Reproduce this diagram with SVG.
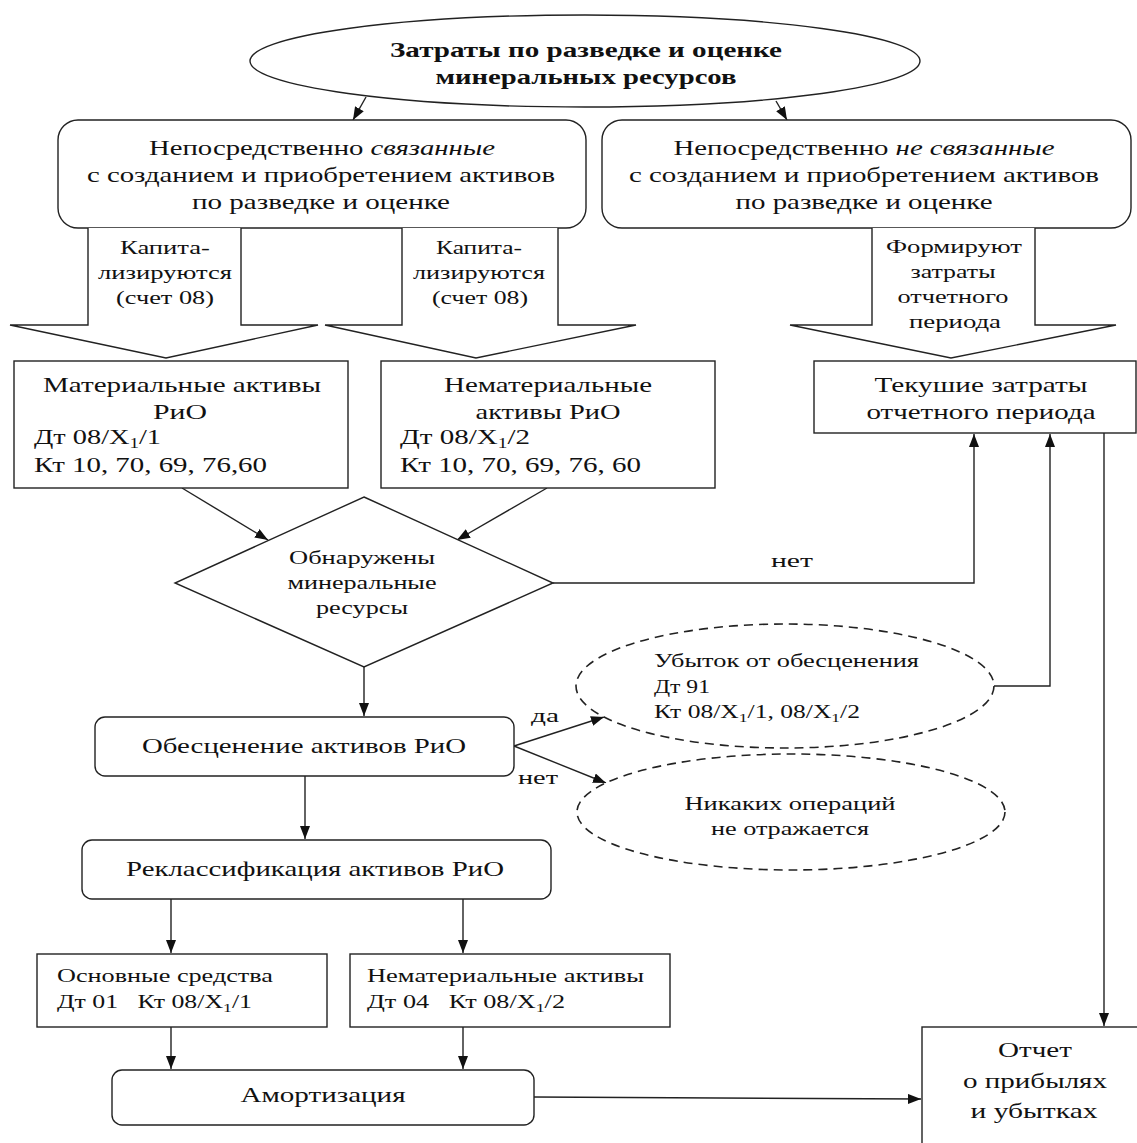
<svg xmlns="http://www.w3.org/2000/svg" width="1137" height="1143" viewBox="0 0 1137 1143">
<style>
  text { font-family: "Liberation Serif", "Times New Roman", serif; fill: #111; }
  .t21 { font-size: 21px; }
  .t19 { font-size: 19px; }
  .t22 { font-size: 22px; }
  .b { font-weight: bold; }
  .c { text-anchor: middle; }
  .box { fill: #fff; stroke: #222; stroke-width: 1.4; }
  .dash { fill: #fff; stroke: #222; stroke-width: 1.6; stroke-dasharray: 9 6; }
  .ln { fill: none; stroke: #222; stroke-width: 1.4; }
  .arr { fill: none; stroke: #222; stroke-width: 1.4; marker-end: url(#ah); }
</style>
<defs>
  <marker id="ah" markerUnits="userSpaceOnUse" markerWidth="14" markerHeight="10" refX="13" refY="5" orient="auto">
    <path d="M0,0 L13,5 L0,10 z" fill="#111"/>
  </marker>
</defs>
<rect width="1137" height="1143" fill="#fff"/>

<g id="connectors">
  <line class="arr" x1="366" y1="97" x2="353" y2="120"/>
  <line class="arr" x1="776" y1="101" x2="787" y2="120"/>
  <line class="arr" x1="182" y1="488" x2="268" y2="540"/>
  <line class="arr" x1="547" y1="488" x2="457" y2="540"/>
  <path class="arr" d="M553,583 H974 V434"/>
  <path class="arr" d="M994,686 H1050 V434"/>
  <path class="arr" d="M1104,433 V1026"/>
  <path class="arr" d="M364,667 V716"/>
  <line class="arr" x1="514" y1="746" x2="604" y2="717"/>
  <line class="arr" x1="514" y1="746" x2="606" y2="783"/>
  <path class="arr" d="M305,776 V839"/>
  <path class="arr" d="M171,899 V953"/>
  <path class="arr" d="M463,899 V953"/>
  <path class="arr" d="M171,1027 V1069"/>
  <path class="arr" d="M463,1027 V1069"/>
  <path class="arr" d="M534,1097 L921,1099"/>
  <text class="t19" x="771" y="567" textLength="42" lengthAdjust="spacingAndGlyphs">нет</text>
  <text class="t19" x="531" y="722" textLength="28" lengthAdjust="spacingAndGlyphs">да</text>
  <text class="t19" x="518" y="784" textLength="40" lengthAdjust="spacingAndGlyphs">нет</text>
</g>

<g id="n-top">
  <ellipse class="box" cx="585" cy="61" rx="335" ry="46"/>
  <text class="t21 b c" x="586" y="57" textLength="392" lengthAdjust="spacingAndGlyphs">Затраты по разведке и оценке</text>
  <text class="t21 b c" x="586" y="84" textLength="301" lengthAdjust="spacingAndGlyphs">минеральных ресурсов</text>
</g>

<g id="n-related">
  <rect class="box" x="58" y="120" width="528" height="108" rx="20"/>
  <text class="t21 c" x="322" y="155" textLength="346" lengthAdjust="spacingAndGlyphs">Непосредственно <tspan font-style="italic">связанные</tspan></text>
  <text class="t21 c" x="321" y="182" textLength="468" lengthAdjust="spacingAndGlyphs">с созданием и приобретением активов</text>
  <text class="t21 c" x="321" y="209" textLength="258" lengthAdjust="spacingAndGlyphs">по разведке и оценке</text>
</g>

<g id="n-unrelated">
  <rect class="box" x="602" y="120" width="529" height="108" rx="20"/>
  <text class="t21 c" x="864" y="155" textLength="381" lengthAdjust="spacingAndGlyphs">Непосредственно <tspan font-style="italic">не связанные</tspan></text>
  <text class="t21 c" x="864" y="182" textLength="470" lengthAdjust="spacingAndGlyphs">с созданием и приобретением активов</text>
  <text class="t21 c" x="864" y="209" textLength="257" lengthAdjust="spacingAndGlyphs">по разведке и оценке</text>
</g>

<g id="arrow-cap1">
  <path class="box" d="M88,228 V325 H10 L166,358 L318,325 H241 V228"/>
  <text class="t19 c" x="165" y="254" textLength="90" lengthAdjust="spacingAndGlyphs">Капита-</text>
  <text class="t19 c" x="165" y="279" textLength="134" lengthAdjust="spacingAndGlyphs">лизируются</text>
  <text class="t19 c" x="165" y="304" textLength="98" lengthAdjust="spacingAndGlyphs">(счет 08)</text>
</g>

<g id="arrow-cap2">
  <path class="box" d="M402,228 V325 H325 L476,358 L636,325 H558 V228"/>
  <text class="t19 c" x="479" y="254" textLength="86" lengthAdjust="spacingAndGlyphs">Капита-</text>
  <text class="t19 c" x="479" y="279" textLength="132" lengthAdjust="spacingAndGlyphs">лизируются</text>
  <text class="t19 c" x="480" y="304" textLength="96" lengthAdjust="spacingAndGlyphs">(счет 08)</text>
</g>

<g id="arrow-form">
  <path class="box" d="M872,228 V325 H790 L951,358 L1116,325 H1035 V228"/>
  <text class="t19 c" x="954" y="253" textLength="136" lengthAdjust="spacingAndGlyphs">Формируют</text>
  <text class="t19 c" x="953" y="278" textLength="85" lengthAdjust="spacingAndGlyphs">затраты</text>
  <text class="t19 c" x="953" y="303" textLength="111" lengthAdjust="spacingAndGlyphs">отчетного</text>
  <text class="t19 c" x="955" y="328" textLength="92" lengthAdjust="spacingAndGlyphs">периода</text>
</g>

<g id="n-material">
  <rect class="box" x="14" y="361" width="334" height="127"/>
  <text class="t21 c" x="182" y="392" textLength="278" lengthAdjust="spacingAndGlyphs">Материальные активы</text>
  <text class="t21 c" x="180" y="419" textLength="54" lengthAdjust="spacingAndGlyphs">РиО</text>
  <text class="t21" x="34" y="444" textLength="127" lengthAdjust="spacingAndGlyphs">Дт 08/X<tspan font-size="14" dy="4">1</tspan><tspan dy="-4">/1</tspan></text>
  <text class="t21" x="34" y="472" textLength="233" lengthAdjust="spacingAndGlyphs">Кт 10, 70, 69, 76,60</text>
</g>

<g id="n-nonmaterial">
  <rect class="box" x="381" y="361" width="334" height="127"/>
  <text class="t21 c" x="548" y="392" textLength="208" lengthAdjust="spacingAndGlyphs">Нематериальные</text>
  <text class="t21 c" x="548" y="419" textLength="145" lengthAdjust="spacingAndGlyphs">активы РиО</text>
  <text class="t21" x="400" y="444" textLength="130" lengthAdjust="spacingAndGlyphs">Дт 08/X<tspan font-size="14" dy="4">1</tspan><tspan dy="-4">/2</tspan></text>
  <text class="t21" x="400" y="472" textLength="241" lengthAdjust="spacingAndGlyphs">Кт 10, 70, 69, 76, 60</text>
</g>

<g id="n-current">
  <rect class="box" x="814" y="361" width="322" height="72"/>
  <text class="t21 c" x="981" y="392" textLength="213" lengthAdjust="spacingAndGlyphs">Текушие затраты</text>
  <text class="t21 c" x="981" y="419" textLength="229" lengthAdjust="spacingAndGlyphs">отчетного периода</text>
</g>

<g id="n-found">
  <polygon class="box" points="364,497 553,583 364,667 175,583"/>
  <text class="t19 c" x="362" y="564" textLength="146" lengthAdjust="spacingAndGlyphs">Обнаружены</text>
  <text class="t19 c" x="362" y="589" textLength="149" lengthAdjust="spacingAndGlyphs">минеральные</text>
  <text class="t19 c" x="362" y="614" textLength="92" lengthAdjust="spacingAndGlyphs">ресурсы</text>
</g>

<g id="n-loss">
  <ellipse class="dash" cx="785" cy="686" rx="209" ry="62"/>
  <text class="t19" x="654" y="667" textLength="265" lengthAdjust="spacingAndGlyphs">Убыток от обесценения</text>
  <text class="t19" x="654" y="693" textLength="56" lengthAdjust="spacingAndGlyphs">Дт 91</text>
  <text class="t19" x="654" y="718" textLength="206" lengthAdjust="spacingAndGlyphs">Кт 08/X<tspan font-size="13" dy="4">1</tspan><tspan dy="-4">/1, 08/X</tspan><tspan font-size="13" dy="4">1</tspan><tspan dy="-4">/2</tspan></text>
</g>

<g id="n-none">
  <ellipse class="dash" cx="791" cy="812" rx="214" ry="58"/>
  <text class="t19 c" x="790" y="810" textLength="211" lengthAdjust="spacingAndGlyphs">Никаких операций</text>
  <text class="t19 c" x="790" y="835" textLength="158" lengthAdjust="spacingAndGlyphs">не отражается</text>
</g>

<g id="n-impair">
  <rect class="box" x="95" y="717" width="419" height="59" rx="10"/>
  <text class="t21 c" x="304" y="753" textLength="324" lengthAdjust="spacingAndGlyphs">Обесценение активов РиО</text>
</g>

<g id="n-reclass">
  <rect class="box" x="82" y="840" width="469" height="59" rx="10"/>
  <text class="t21 c" x="315" y="876" textLength="378" lengthAdjust="spacingAndGlyphs">Реклассификация активов РиО</text>
</g>

<g id="n-fixed">
  <rect class="box" x="37" y="954" width="290" height="73"/>
  <text class="t19" x="57" y="982" textLength="216" lengthAdjust="spacingAndGlyphs">Основные средства</text>
  <text class="t19" x="57" y="1008" textLength="195" lengthAdjust="spacingAndGlyphs" xml:space="preserve">Дт 01   Кт 08/X<tspan font-size="13" dy="4">1</tspan><tspan dy="-4">/1</tspan></text>
</g>

<g id="n-intangible">
  <rect class="box" x="350" y="954" width="320" height="73"/>
  <text class="t19" x="367" y="982" textLength="277" lengthAdjust="spacingAndGlyphs">Нематериальные активы</text>
  <text class="t19" x="367" y="1008" textLength="198" lengthAdjust="spacingAndGlyphs" xml:space="preserve">Дт 04   Кт 08/X<tspan font-size="13" dy="4">1</tspan><tspan dy="-4">/2</tspan></text>
</g>

<g id="n-amort">
  <rect class="box" x="112" y="1070" width="422" height="55" rx="10"/>
  <text class="t21 c" x="323" y="1102" textLength="165" lengthAdjust="spacingAndGlyphs">Амортизация</text>
</g>

<g id="n-report">
  <rect class="box" x="922" y="1027" width="225" height="130"/>
  <text class="t22 c" x="1035" y="1057" textLength="74" lengthAdjust="spacingAndGlyphs">Отчет</text>
  <text class="t22 c" x="1035" y="1088" textLength="144" lengthAdjust="spacingAndGlyphs">о прибылях</text>
  <text class="t22 c" x="1034" y="1118" textLength="127" lengthAdjust="spacingAndGlyphs">и убытках</text>
</g>
</svg>
